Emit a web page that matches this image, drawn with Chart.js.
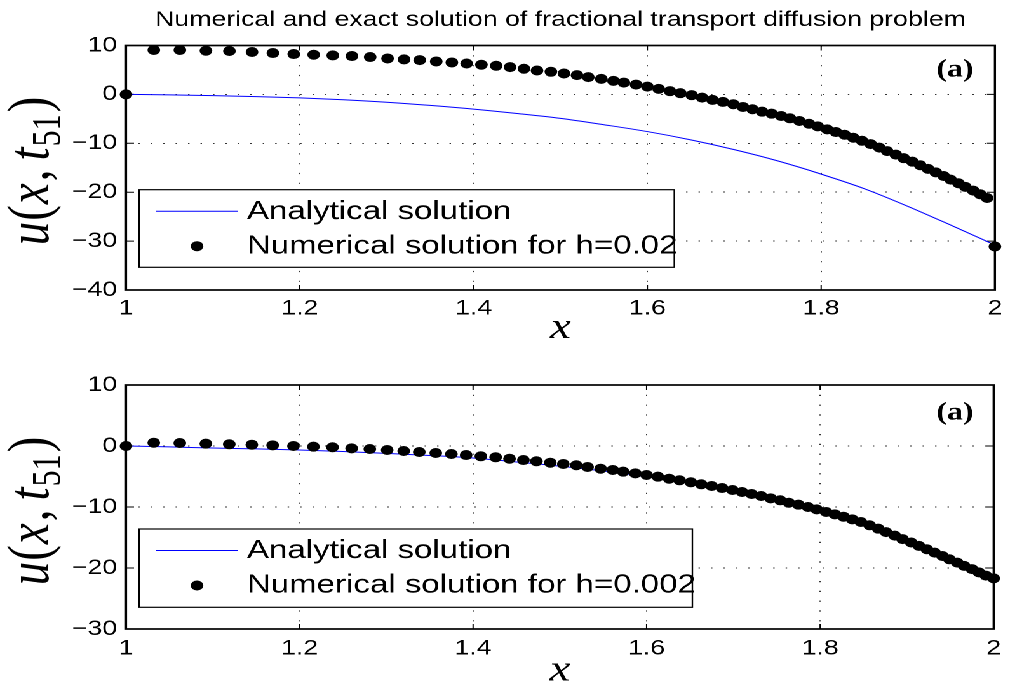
<!DOCTYPE html>
<html>
<head>
<meta charset="utf-8">
<title>Fractional transport diffusion</title>
<script src="https://cdn.jsdelivr.net/npm/chart.js@4.4.1/dist/chart.umd.min.js"></script>
<style>
  html, body { margin: 0; padding: 0; background: #fff; overflow: hidden; }
  /* figure is laid out narrow and stretched sideways, like the exported figure */
  #page { position: absolute; left: 0; top: 0; width: 795px; height: 700px; transform: scaleX(1.2704); transform-origin: 0 0; }
  #page canvas { position: absolute; left: 0; }
</style>
</head>
<body>
<div id="page">
  <canvas id="coarse" width="795" height="360" style="top:0;width:795px;height:360px"></canvas>
  <canvas id="fine" width="795" height="360" style="top:340px;width:795px;height:360px"></canvas>
</div>
<script>
// space mesh (graded towards x = 2)
const meshX = [
  1.000, 1.032, 1.062, 1.092, 1.119, 1.145, 1.169, 1.193, 1.216, 1.238,
  1.260, 1.281, 1.301, 1.320, 1.338, 1.357, 1.375, 1.392, 1.409, 1.426,
  1.442, 1.458, 1.473, 1.489, 1.504, 1.519, 1.532, 1.547, 1.561, 1.573,
  1.587, 1.600, 1.613, 1.626, 1.638, 1.651, 1.663, 1.675, 1.687, 1.699,
  1.710, 1.721, 1.732, 1.743, 1.754, 1.764, 1.775, 1.786, 1.796, 1.807,
  1.817, 1.827, 1.837, 1.847, 1.857, 1.867, 1.876, 1.886, 1.895, 1.905,
  1.914, 1.923, 1.932, 1.941, 1.949, 1.958, 1.966, 1.975, 1.983, 1.991,
  2.000
];
// numerical u(x, t51), h = 0.02
const numCoarse = [
  0, 9.08, 9.08, 8.93, 8.87, 8.67, 8.46, 8.25, 8.11, 7.97,
  7.84, 7.64, 7.35, 7.15, 7.02, 6.74, 6.53, 6.32, 6.06, 5.85,
  5.58, 5.24, 4.89, 4.62, 4.27, 3.94, 3.53, 3.18, 2.77, 2.42,
  2.01, 1.60, 1.13, 0.66, 0.25, -0.16, -0.66, -1.13, -1.54, -2.01,
  -2.57, -3.04, -3.53, -3.94, -4.41, -4.89, -5.44, -6.00, -6.53, -7.15,
  -7.70, -8.25, -8.87, -9.49, -10.16, -10.88, -11.60, -12.32, -13.04, -13.76,
  -14.48, -15.22, -15.95, -16.69, -17.43, -18.17, -18.91, -19.67, -20.43, -21.19,
  -31.1
];
// numerical u(x, t51), h = 0.002
const numFine = [
  0, 0.54, 0.49, 0.38, 0.28, 0.21, 0.11, 0, -0.11, -0.21,
  -0.38, -0.49, -0.66, -0.82, -0.98, -1.15, -1.31, -1.48, -1.69, -1.85,
  -2.08, -2.30, -2.51, -2.74, -2.95, -3.16, -3.44, -3.72, -3.93, -4.21,
  -4.48, -4.75, -5.03, -5.36, -5.62, -5.95, -6.28, -6.56, -6.89, -7.21,
  -7.54, -7.87, -8.20, -8.58, -8.90, -9.30, -9.62, -10.00, -10.38, -10.82,
  -11.20, -11.59, -12.02, -12.46, -13.00, -13.55, -14.12, -14.69, -15.26, -15.82,
  -16.38, -16.93, -17.48, -18.03, -18.57, -19.11, -19.65, -20.18, -20.71, -21.24,
  -21.70
];
// analytical solution
const exactX = [1, 1.05, 1.1, 1.15, 1.2, 1.25, 1.3, 1.35, 1.4, 1.45, 1.5,
                1.55, 1.6, 1.65, 1.7, 1.75, 1.8, 1.85, 1.9, 1.95, 2];
const exactCoarse = [0, -0.1, -0.25, -0.45, -0.72, -1.1, -1.6, -2.25, -3.0, -3.9, -4.9,
                     -6.2, -7.6, -9.3, -11.3, -13.6, -16.3, -19.3, -22.9, -26.8, -30.8];
const exactFine = [0, -0.15, -0.33, -0.48, -0.66, -0.9, -1.2, -1.55, -1.97, -2.62, -3.3,
                   -4.1, -5.03, -6.15, -7.43, -8.95, -10.7, -13.1, -15.8, -18.7, -21.7];

const xTicks = [1, 1.2, 1.4, 1.6, 1.8, 2];
const yTicksCoarse = [-40, -30, -20, -10, 0, 10];
const yTicksFine = [-30, -20, -10, 0, 10];

const SANS = '"Liberation Sans", Arial, Helvetica, sans-serif';
const SERIF = '"Liberation Serif", "Times New Roman", serif';

const pairs = (xs, ys) => xs.map((x, i) => ({ x, y: ys[i] }));
const fmt = v => String(Math.round(v * 10) / 10).replace('-', '\u2212');

// box + matlab style inner tick marks
const frame = {
  id: 'frame',
  beforeDatasetsDraw(chart) {
    const { ctx, chartArea: a, scales: { x, y } } = chart;
    ctx.save();
    ctx.strokeStyle = '#000';
    ctx.lineWidth = 1;
    ctx.beginPath();
    x.ticks.forEach(t => {
      const px = x.getPixelForValue(t.value);
      ctx.moveTo(px, a.bottom); ctx.lineTo(px, a.bottom - 5);
      ctx.moveTo(px, a.top); ctx.lineTo(px, a.top + 5);
    });
    y.ticks.forEach(t => {
      const py = y.getPixelForValue(t.value);
      ctx.moveTo(a.left, py); ctx.lineTo(a.left + 6.3, py);
      ctx.moveTo(a.right, py); ctx.lineTo(a.right - 6.3, py);
    });
    ctx.stroke();
    ctx.lineWidth = 1.7;
    ctx.strokeRect(a.left, a.top, a.right - a.left, a.bottom - a.top);
    ctx.restore();
  }
};

function drawYLabel(ctx, bx, cy) {
  const it = 'italic 47px ' + SERIF, up = '47px ' + SERIF, sub = '32px ' + SERIF;
  // text, font, drop below baseline, gap after
  const parts = [['u', it, 0, 1], ['(', up, 0, 1], ['x', it, 0, 2], [',', up, 0, 9],
                 ['t', it, 0, 1], ['51', sub, 9, 2], [')', up, 0, 0]];
  let total = 0;
  parts.forEach(p => { ctx.font = p[1]; p.push(ctx.measureText(p[0]).width); total += p[4] + p[3]; });
  ctx.save();
  ctx.translate(bx, cy);
  ctx.rotate(-Math.PI / 2);
  ctx.fillStyle = '#000';
  ctx.textBaseline = 'alphabetic';
  ctx.textAlign = 'left';
  let x = -total / 2;
  parts.forEach(p => { ctx.font = p[1]; ctx.fillText(p[0], x, p[2]); x += p[4] + p[3]; });
  ctx.restore();
}

// legend box, panel tag and y label
const decor = o => ({
  id: 'decor',
  afterDraw(chart) {
    const ctx = chart.ctx;
    const [num, exact] = chart.data.datasets;
    const b = o.legend;
    ctx.save();
    ctx.fillStyle = '#fff';
    ctx.fillRect(b.left, b.top, b.right - b.left, b.bottom - b.top);
    ctx.strokeStyle = '#000';
    ctx.lineWidth = 1.2;
    ctx.strokeRect(b.left, b.top, b.right - b.left, b.bottom - b.top);
    ctx.strokeStyle = exact.borderColor;
    ctx.lineWidth = 1;
    ctx.beginPath();
    ctx.moveTo(122.8, b.top + 21.5);
    ctx.lineTo(187.3, b.top + 21.5);
    ctx.stroke();
    ctx.fillStyle = num.pointBackgroundColor;
    ctx.beginPath();
    ctx.arc(155.1, b.top + 56.5, num.pointRadius, 0, Math.PI * 2);
    ctx.fill();
    ctx.fillStyle = '#000';
    ctx.font = '26px ' + SANS;
    ctx.textBaseline = 'middle';
    ctx.textAlign = 'left';
    ctx.fillText(exact.label, 194.4, b.top + 22);
    ctx.fillText(num.label, 194.4, b.top + 56.5);

    ctx.font = 'bold 25px ' + SERIF;
    ctx.textAlign = 'center';
    ctx.fillText('(a)', 751.7, o.tagY);
    ctx.restore();

    drawYLabel(ctx, 38, 171);
  }
});

function panel(id, o) {
  return new Chart(document.getElementById(id), {
    type: 'scatter',
    data: {
      datasets: [
        { label: 'Numerical solution for h=' + o.h, data: pairs(meshX, o.num),
          pointRadius: 5, pointBackgroundColor: '#000', pointBorderWidth: 0,
          clip: false, order: 1 },
        { label: 'Analytical solution', data: pairs(exactX, o.exact),
          showLine: true, borderColor: '#0000ff', borderWidth: 1, pointRadius: 0,
          cubicInterpolationMode: 'monotone', order: 2 }
      ]
    },
    options: {
      responsive: false,
      animation: false,
      devicePixelRatio: 2,
      events: [],
      layout: { padding: { top: o.padTop, right: 7.8, bottom: 0, left: 0 } },
      plugins: {
        legend: { display: false },
        tooltip: { enabled: false },
        title: o.title ? {
          display: true, text: o.title, fullSize: false, color: '#000',
          font: { family: SANS, size: 21, weight: 'normal' },
          padding: { top: 7.4, bottom: 12.9 }
        } : { display: false }
      },
      scales: {
        x: {
          type: 'linear', min: 1, max: 2,
          afterBuildTicks: s => { s.ticks = xTicks.map(value => ({ value })); },
          afterFit: s => { s.height = 360 - o.areaBottom; },
          ticks: { callback: fmt, color: '#000', font: { family: SANS, size: 21 },
                   padding: o.xTickPad, maxRotation: 0, autoSkip: false },
          grid: { color: 'rgba(0,0,0,0.8)', lineWidth: 1, drawTicks: false },
          border: { display: false, dash: [1.2, 8.6] },
          title: { display: true, text: 'x', color: '#000',
                   font: { family: SERIF, size: 37, style: 'italic' },
                   padding: { top: 0, bottom: o.xTitlePad } }
        },
        y: {
          type: 'linear', min: o.yTicks[0], max: 10,
          afterBuildTicks: s => { s.ticks = o.yTicks.map(value => ({ value })); },
          afterFit: s => { s.width = 99.2; },
          ticks: { callback: fmt, color: '#000', font: { family: SANS, size: 21 },
                   padding: 7, autoSkip: false },
          grid: { color: 'rgba(0,0,0,0.8)', lineWidth: 1, drawTicks: false },
          border: { display: false, dash: [1.2, 8.6] }
        }
      }
    },
    plugins: [frame, decor(o)]
  });
}

panel('coarse', {
  title: 'Numerical and exact solution of fractional transport diffusion problem',
  h: '0.02', num: numCoarse, exact: exactCoarse, yTicks: yTicksCoarse,
  padTop: 0, areaBottom: 290, xTickPad: 6, xTitlePad: 9.5, tagY: 70,
  legend: { left: 109.4, top: 189.7, right: 530.8, bottom: 267.3 }
});

panel('fine', {
  h: '0.002', num: numFine, exact: exactFine, yTicks: yTicksFine,
  padTop: 45, areaBottom: 289, xTickPad: 7, xTitlePad: 6.9, tagY: 73,
  legend: { left: 109.4, top: 189, right: 545, bottom: 267.3 }
});
</script>
</body>
</html>
